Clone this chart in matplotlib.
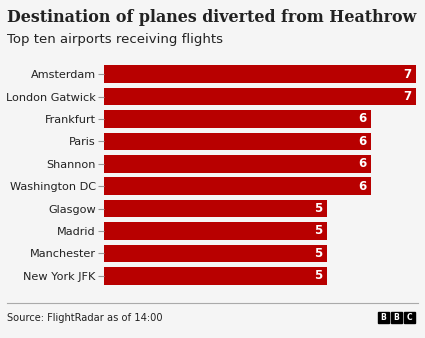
import matplotlib.pyplot as plt
from matplotlib.patches import Rectangle

airports = ["Amsterdam", "London Gatwick", "Frankfurt", "Paris", "Shannon",
            "Washington DC", "Glasgow", "Madrid", "Manchester", "New York JFK"]
flights = [7, 7, 6, 6, 6, 6, 5, 5, 5, 5]

bg = "#f5f5f5"
red = "#b80000"

fig = plt.figure(figsize=(4.25, 3.38), dpi=100, facecolor=bg)
ax = fig.add_axes([104 / 425, 1 - 287 / 338, 312 / 425, (287 - 63) / 338])
ax.set_facecolor(bg)

y = list(range(len(airports)))
ax.barh(y, flights, height=0.78, color=red)
ax.set_xlim(0, 7)
ax.set_ylim(len(airports) - 0.5, -0.5)
ax.set_yticks(y)
ax.set_yticklabels(airports, fontsize=8.1, color="#222222")
ax.tick_params(axis="y", length=4, width=0.8, color="#999999", pad=2)
ax.set_xticks([])
for s in ax.spines.values():
    s.set_visible(False)

# value labels inside the bar ends
for yi, v in zip(y, flights):
    ax.text(v - 0.1, yi, str(v), ha="right", va="center", color="white",
            fontsize=8.5, fontweight="bold")

fig.text(7 / 425, 1 - 18 / 338, "Destination of planes diverted from Heathrow",
         fontsize=11.4, fontweight="bold", family="DejaVu Serif", color="#222222",
         va="center")
fig.text(7 / 425, 1 - 40 / 338, "Top ten airports receiving flights",
         fontsize=9.5, color="#222222", va="center")

fig.add_artist(plt.Line2D([7 / 425, 418 / 425], [1 - 303 / 338] * 2,
                          color="#aaaaaa", linewidth=0.8))
fig.text(7 / 425, 1 - 318 / 338, "Source: FlightRadar as of 14:00",
         fontsize=7.1, color="#222222", va="center")

# BBC blocks
for i, letter in enumerate("BBC"):
    x0 = 378 + i * 13
    fig.add_artist(Rectangle((x0 / 425, 1 - 323 / 338), 11 / 425, 11 / 338,
                             transform=fig.transFigure, color="black"))
    fig.text((x0 + 5.5) / 425, 1 - 317.5 / 338, letter, fontsize=5.5,
             fontweight="bold", color="white", ha="center", va="center")

fig.savefig("out.png", dpi=100, facecolor=bg)
